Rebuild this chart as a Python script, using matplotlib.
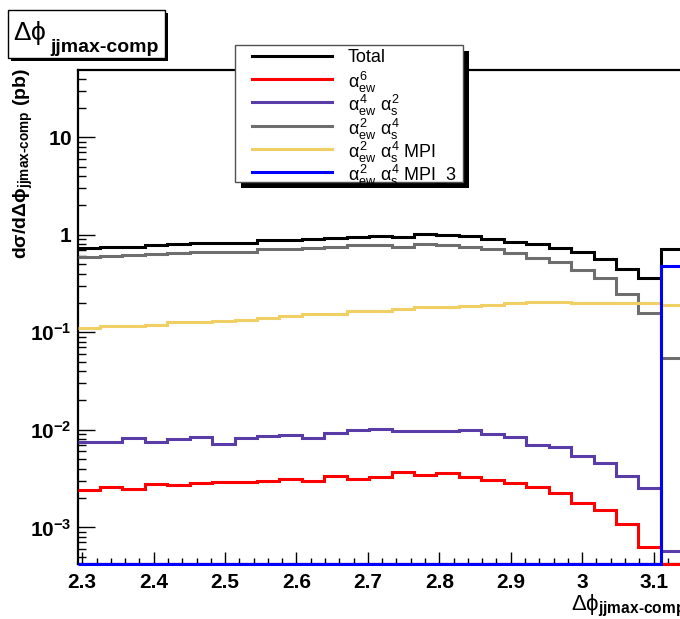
import numpy as np
import matplotlib
matplotlib.use("Agg")
import matplotlib.pyplot as plt
from matplotlib.lines import Line2D
from matplotlib.patches import Rectangle
from matplotlib.ticker import FixedLocator, FixedFormatter, NullFormatter

plt.rcParams['font.family'] = ['Liberation Sans', 'DejaVu Sans']
plt.rcParams['mathtext.fontset'] = 'custom'
plt.rcParams['mathtext.rm'] = 'Liberation Sans'
plt.rcParams['mathtext.it'] = 'Liberation Sans'
plt.rcParams['mathtext.sf'] = 'Liberation Sans'
plt.rcParams['mathtext.bf'] = 'Liberation Sans:bold'

# ---------------- data ----------------
# histogram: 100 bins over [0, pi], bins 73..99 visible
bin_index = np.arange(73, 101)
bin_edges = bin_index * np.pi / 100.0

total = [0.726, 0.744, 0.755, 0.780, 0.798, 0.817, 0.817, 0.830, 0.877, 0.885,
         0.899, 0.934, 0.957, 0.972, 0.942, 1.019, 0.996, 0.972, 0.906, 0.851,
         0.798, 0.740, 0.660, 0.570, 0.450, 0.357, 0.715]
ew6 = [0.00241, 0.00257, 0.00247, 0.00278, 0.00272, 0.00287, 0.00291, 0.00291, 0.00301, 0.00313,
       0.00299, 0.00339, 0.00315, 0.00325, 0.00366, 0.00347, 0.00358, 0.00331, 0.00306, 0.00282,
       0.00257, 0.00227, 0.00179, 0.00150, 0.00108, 0.000633, 0.0]
ew4_s2 = [0.00744, 0.00755, 0.00818, 0.00744, 0.00798, 0.00837, 0.00715, 0.00818, 0.00871, 0.00885,
          0.00818, 0.00920, 0.00990, 0.01019, 0.00972, 0.00980, 0.00980, 0.00995, 0.00899, 0.00850,
          0.00698, 0.00661, 0.00543, 0.00453, 0.00336, 0.00251, 0.000571]
ew2_s4 = [0.597, 0.606, 0.615, 0.635, 0.645, 0.671, 0.661, 0.666, 0.709, 0.715,
          0.726, 0.755, 0.786, 0.790, 0.755, 0.798, 0.780, 0.755, 0.709, 0.656,
          0.574, 0.530, 0.437, 0.357, 0.246, 0.157, 0.054]
ew2_s4_mpi = [0.1116, 0.116, 0.116, 0.1197, 0.1265, 0.1276, 0.1316, 0.1337, 0.1413, 0.148,
              0.1529, 0.1553, 0.165, 0.1667, 0.172, 0.180, 0.180, 0.1876, 0.1906, 0.198,
              0.2046, 0.206, 0.201, 0.201, 0.200, 0.198, 0.189]
ew2_s4_mpi3 = [0.0] * 26 + [0.479]

labels = ['Total',
          r'$\alpha^{6}_{ew}$',
          r'$\alpha^{4}_{ew}\ \alpha^{2}_{s}$',
          r'$\alpha^{2}_{ew}\ \alpha^{4}_{s}$',
          r'$\alpha^{2}_{ew}\ \alpha^{4}_{s}$ MPI',
          r'$\alpha^{2}_{ew}\ \alpha^{4}_{s}$ MPI_3']
colors = ['#000000', '#ff0000', '#5a3ca8', '#6e6e6e', '#f0d064', '#0000ff']
series = [total, ew6, ew4_s2, ew2_s4, ew2_s4_mpi, ew2_s4_mpi3]

x_major = [2.3, 2.4, 2.5, 2.6, 2.7, 2.8, 2.9, 3.0, 3.1]
x_major_labels = ['2.3', '2.4', '2.5', '2.6', '2.7', '2.8', '2.9', '3', '3.1']
y_major = [1e-3, 1e-2, 1e-1, 1.0, 10.0]
y_major_labels = [r'$\mathbf{10^{-3}}$', r'$\mathbf{10^{-2}}$', r'$\mathbf{10^{-1}}$',
                  r'$\mathbf{1}$', r'$\mathbf{10}$']
y_min, y_max = 4.18e-4, 49.0

# ---------------- figure ----------------
W, H = 680, 619
fig = plt.figure(figsize=(W / 100, H / 100), dpi=100)
fig.patch.set_facecolor('white')

def fx(px):
    return px / W

def fy(py):
    return 1 - py / H

ax_l, ax_r, ax_t, ax_b = 77.5, 683.3, 70.0, 564.3
ax = fig.add_axes([fx(ax_l), fy(ax_b), (ax_r - ax_l) / W, (ax_b - ax_t) / H])
ax.set_yscale('log')
ax.set_xlim(bin_edges[0], bin_edges[-1])
ax.set_ylim(y_min, y_max)

for vals, col in zip(series, colors):
    v = np.maximum(np.asarray(vals, dtype=float), y_min)
    ax.stairs(v, bin_edges, color=col, lw=2.2, baseline=None, clip_on=False, zorder=3)

for s in ['left', 'top', 'bottom', 'right']:
    ax.spines[s].set_linewidth(1.6)
    ax.spines[s].set_color('black')

ax.xaxis.set_major_locator(FixedLocator(x_major))
ax.xaxis.set_major_formatter(FixedFormatter(x_major_labels))
ax.xaxis.set_minor_locator(FixedLocator(np.round(np.arange(2.3, 3.141, 0.02), 3)))
ax.yaxis.set_major_locator(FixedLocator(y_major))
ax.yaxis.set_major_formatter(FixedFormatter(y_major_labels))
ymin_ticks = [m * 10.0 ** e for e in range(-4, 2) for m in range(2, 10)]
ymin_ticks = [t for t in ymin_ticks if y_min <= t <= y_max]
ax.yaxis.set_minor_locator(FixedLocator(ymin_ticks))
ax.yaxis.set_minor_formatter(NullFormatter())

ax.tick_params(axis='x', which='major', direction='in', length=9, width=1.0,
               labelsize=15, pad=6, top=False)
ax.tick_params(axis='x', which='minor', direction='in', length=4.5, width=1.0, top=False)
ax.tick_params(axis='y', which='major', direction='in', length=12, width=1.0,
               labelsize=15, pad=4, right=False)
ax.tick_params(axis='y', which='minor', direction='in', length=6, width=1.0, right=False)
for lab in ax.get_xticklabels():
    lab.set_fontweight('bold')

# axis titles
fig.text(fx(12), fy(68), r'$\mathbf{d\sigma/d\Delta\phi_{jjmax‐comp}}$ $\mathbf{(pb)}$',
         rotation=90, ha='left', va='top', fontsize=14)
fig.text(fx(686), fy(619), r'$\Delta\phi_{\mathbf{jjmax‐comp}}$',
         ha='right', va='bottom', fontsize=16)

# title box
fig.add_artist(Rectangle((fx(11), fy(61)), fx(157), 48 / H, transform=fig.transFigure,
                         facecolor='black', edgecolor='black', lw=0, zorder=5))
fig.add_artist(Rectangle((fx(8), fy(58)), fx(157), 48 / H, transform=fig.transFigure,
                         facecolor='white', edgecolor='black', lw=1.0, zorder=6))
fig.text(fx(13), fy(40), r'$\Delta\phi$', fontsize=19, ha='left', va='baseline', zorder=7)
fig.text(fx(50), fy(52), 'jjmax-comp', fontsize=14, fontweight='bold',
         ha='left', va='baseline', zorder=7)

# legend box
lg_l, lg_t, lg_r, lg_b = 235, 45, 463, 182
fig.add_artist(Rectangle((fx(lg_l + 6), fy(lg_b + 6)), fx(lg_r - lg_l), (lg_b - lg_t) / H,
                         transform=fig.transFigure, facecolor='black', lw=0, zorder=5))
fig.add_artist(Rectangle((fx(lg_l), fy(lg_b)), fx(lg_r - lg_l), (lg_b - lg_t) / H,
                         transform=fig.transFigure, facecolor='white', edgecolor='#505050',
                         lw=1.0, zorder=6))
row_y = [56, 79.3, 102.3, 125.7, 149, 172.3]
for yy, lab, col in zip(row_y, labels, colors):
    fig.add_artist(Line2D([fx(252), fx(332)], [fy(yy), fy(yy)], transform=fig.transFigure,
                          color=col, lw=2.2, zorder=7))
    fig.text(fx(348), fy(yy), lab, fontsize=13, ha='left', va='center_baseline', zorder=7)

fig.savefig('out.png', dpi=100)
